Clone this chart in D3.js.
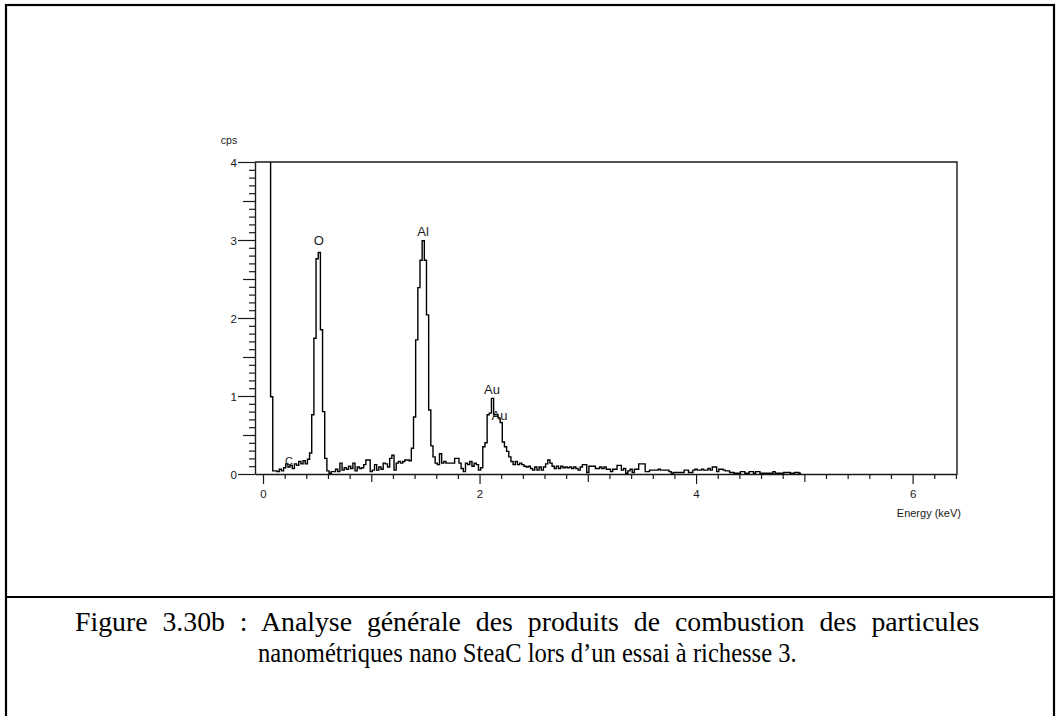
<!DOCTYPE html>
<html>
<head>
<meta charset="utf-8">
<script src="https://cdn.jsdelivr.net/npm/d3@7"></script>
<style>
  body { margin: 0; background: #fff; }
  svg { display: block; }
</style>
</head>
<body>
<script>
// EDX spectrum: counts per channel (cps), channels of 0.02 keV starting at 0.05 keV
const channelStart = 0.05;
const channelWidth = 0.02;
const counts = [
  12.0, 0.99, 0.04, 0.04, 0.03, 0.06, 0.04, 0.08, 0.13, 0.09,   // 0.05 - 0.23
  0.11, 0.07, 0.13, 0.11, 0.16, 0.13, 0.17, 0.13, 0.19, 0.27,   // 0.25 - 0.43
  0.76, 1.74, 2.76, 2.84, 1.85, 0.80, 0.20, 0.04, 0.01, 0.03,   // 0.45 - 0.63
  0.03, 0.06, 0.03, 0.14, 0.05, 0.08, 0.06, 0.10, 0.07, 0.14,   // 0.65 - 0.83
  0.04, 0.09, 0.07, 0.08, 0.12, 0.18, 0.18, 0.03, 0.05, 0.12,   // 0.85 - 1.03
  0.05, 0.09, 0.06, 0.14, 0.13, 0.09, 0.20, 0.24, 0.05, 0.14,   // 1.05 - 1.23
  0.16, 0.14, 0.16, 0.18, 0.18, 0.17, 0.33, 0.73, 1.72, 2.39,   // 1.25 - 1.43
  2.74, 2.99, 2.74, 2.04, 0.82, 0.36, 0.22, 0.14, 0.12, 0.26,   // 1.45 - 1.63
  0.14, 0.16, 0.14, 0.14, 0.14, 0.14, 0.20, 0.20, 0.14, 0.07,   // 1.65 - 1.83
  0.03, 0.14, 0.12, 0.16, 0.10, 0.14, 0.12, 0.05, 0.08, 0.35,   // 1.85 - 2.03
  0.40, 0.76, 0.78, 0.97, 0.76, 0.76, 0.72, 0.66, 0.41, 0.35,   // 2.05 - 2.23
  0.29, 0.22, 0.16, 0.12, 0.16, 0.12, 0.14, 0.12, 0.10, 0.09,   // 2.25 - 2.43
  0.10, 0.07, 0.05, 0.09, 0.05, 0.09, 0.05, 0.09, 0.13, 0.18,   // 2.45 - 2.63
  0.14, 0.10, 0.07, 0.10, 0.07, 0.10, 0.08, 0.09, 0.08, 0.09,   // 2.65 - 2.83
  0.07, 0.09, 0.07, 0.05, 0.09, 0.12, 0.12, 0.02, 0.10, 0.10,   // 2.85 - 3.03
  0.10, 0.07, 0.07, 0.09, 0.07, 0.09, 0.06, 0.06, 0.03, 0.06,   // 3.05 - 3.23
  0.06, 0.11, 0.11, 0.05, 0.07, 0.01, 0.04, 0.06, 0.02, 0.06,   // 3.25 - 3.43
  0.06, 0.13, 0.13, 0.13, 0.03, 0.03, 0.05, 0.05, 0.05, 0.05,   // 3.45 - 3.63
  0.06, 0.05, 0.05, 0.05, 0.05, 0.03, 0.01, 0.02, 0.02, 0.02,   // 3.65 - 3.83
  0.02, 0.02, 0.05, 0.05, 0.02, 0.02, 0.05, 0.06, 0.05, 0.05,   // 3.85 - 4.03
  0.06, 0.05, 0.05, 0.07, 0.05, 0.09, 0.09, 0.03, 0.06, 0.06,   // 4.05 - 4.23
  0.05, 0.04, 0.04, 0.02, 0.02, 0.01, 0.01, 0.01, 0.03, 0.03,   // 4.25 - 4.43
  0.01, 0.01, 0.03, 0.03, 0.01, 0.03, 0.03, 0.01, 0.01, 0.01,   // 4.45 - 4.63
  0.01, 0.01, 0.01, 0.03, 0.01, 0.01, 0.01, 0.01, 0.02, 0.02,   // 4.65 - 4.83
  0.02, 0.01, 0.01, 0.02, 0.02, 0.01                            // 4.85 - 4.95
];

// element markers: symbol, energy (keV), label baseline height (cps)
const peakLabels   = ["O", "Al", "Au", "Au", "C"];
const peakEnergies = [0.515, 1.478, 2.115, 2.185, 0.24];
const peakHeights  = [2.94, 3.05, 1.03, 0.69, 0.12];
const peakFontSize = [13, 13, 13, 13, 11];

// axis labels
const yTickLabels = [0, 1, 2, 3, 4];
const xTickLabels = [0, 2, 4, 6];
const yTitle = "cps";
const xTitle = "Energy (keV)";
const captionLines = [
  "Figure 3.30b : Analyse générale des produits de combustion des particules",
  "nanométriques nano SteaC lors d’un essai à richesse 3."
];

const W = 1058, H = 716;
const plot = { left: 255, right: 957, top: 162, bottom: 474 };
const xDomain = [-0.074, 6.41];
const yDomain = [0, 4];

const svg = d3.select("body").append("svg")
  .attr("width", W).attr("height", H);

// page frame and caption separator
svg.append("rect")
  .attr("x", 6).attr("y", 5).attr("width", 1048).attr("height", 760)
  .attr("fill", "none").attr("stroke", "#000").attr("stroke-width", 2.2);
svg.append("line")
  .attr("x1", 6).attr("x2", 1054).attr("y1", 597).attr("y2", 597)
  .attr("stroke", "#000").attr("stroke-width", 2.2);

const x = d3.scaleLinear().domain(xDomain).range([plot.left, plot.right]);
const y = d3.scaleLinear().domain(yDomain).range([plot.bottom, plot.top]);

const axisFont = "'Liberation Sans', Arial, sans-serif";
const ink = "#1a1a1a";
const near = (a, b) => Math.abs(a - b) < 1e-6;

// y axis: minor 0.1, half 0.5, major 1
const yTickVals = d3.range(0, 41).map(i => i / 10);
const gy = svg.append("g")
  .attr("transform", `translate(${plot.left},0)`)
  .call(d3.axisLeft(y).tickValues(yTickVals).tickSizeOuter(0)
    .tickFormat(d => yTickLabels.some(v => near(v, d)) ? d3.format("d")(d) : ""));
gy.select(".domain").attr("stroke", ink).attr("stroke-width", 1.4);
gy.selectAll(".tick line")
  .attr("stroke", ink).attr("stroke-width", 1.2)
  .attr("x2", d => near(d, Math.round(d)) ? -17 : near(d * 2, Math.round(d * 2)) ? -12 : -6);
gy.selectAll(".tick text")
  .attr("x", -18).attr("dy", "0.36em")
  .attr("font-family", axisFont).attr("font-size", 11.5).attr("fill", ink);

// x axis: minor 0.2, odd integers longer, even integers labelled
const xTickVals = d3.range(0, 33).map(i => i / 5);
const gx = svg.append("g")
  .attr("transform", `translate(0,${plot.bottom})`)
  .call(d3.axisBottom(x).tickValues(xTickVals).tickSizeOuter(0)
    .tickFormat(d => xTickLabels.some(v => near(v, d)) ? d3.format("d")(d) : ""));
gx.select(".domain").attr("stroke", ink).attr("stroke-width", 1.4);
gx.selectAll(".tick line")
  .attr("stroke", ink).attr("stroke-width", 1.2)
  .attr("y2", d => {
    if (!near(d, Math.round(d))) return 5;
    return Math.round(d) % 2 === 0 ? 10 : 8;
  });
gx.selectAll(".tick text")
  .attr("y", 24).attr("dy", 0)
  .attr("font-family", axisFont).attr("font-size", 11.5).attr("fill", ink);

// top and right frame of the plot box
svg.append("path")
  .attr("d", `M${plot.left},${plot.top}H${plot.right}V${plot.bottom}`)
  .attr("fill", "none").attr("stroke", ink).attr("stroke-width", 1.4);

// axis titles
svg.append("text").text(yTitle)
  .attr("x", 229).attr("y", 144).attr("text-anchor", "middle")
  .attr("font-family", axisFont).attr("font-size", 10.5).attr("fill", ink);
svg.append("text").text(xTitle)
  .attr("x", 961).attr("y", 517).attr("text-anchor", "end")
  .attr("font-family", axisFont).attr("font-size", 11).attr("fill", ink);

// spectrum as a step line, clipped to the plot box
svg.append("clipPath").attr("id", "plot-clip")
  .append("rect")
  .attr("x", plot.left).attr("y", plot.top)
  .attr("width", plot.right - plot.left).attr("height", plot.bottom - plot.top);

const pts = counts.map((c, i) => [channelStart + i * channelWidth, c]);
pts.push([channelStart + counts.length * channelWidth, counts[counts.length - 1]]);

svg.append("path")
  .datum(pts)
  .attr("clip-path", "url(#plot-clip)")
  .attr("fill", "none")
  .attr("stroke", "#000")
  .attr("stroke-width", 1.4)
  .attr("d", d3.line().x(d => x(d[0])).y(d => y(d[1])).curve(d3.curveStepAfter));

// element labels
svg.append("g").selectAll("text")
  .data(peakLabels)
  .join("text")
  .text(d => d)
  .attr("x", (d, i) => x(peakEnergies[i]))
  .attr("y", (d, i) => y(peakHeights[i]))
  .attr("text-anchor", "middle")
  .attr("font-family", axisFont)
  .attr("font-size", (d, i) => peakFontSize[i])
  .attr("fill", ink);

// caption: condensed serif; first line justified across the width, last line centred
const capCentre = 527.5;
const capBaselines = [631, 662];
const capWidths = [905, 539];
const capFont = 27;
const wordGap = 8;          // extra justification space per word gap on the first line (px)
const cap = svg.append("g");
const capText = captionLines.map((line, i) => cap.append("text")
  .text(line)
  .attr("y", capBaselines[i])
  .attr("font-family", "'Liberation Serif', 'Times New Roman', serif")
  .attr("font-size", capFont)
  .attr("fill", "#000"));
const natural = capText.map(t => t.node().getComputedTextLength());
const spaces = (captionLines[0].match(/ /g) || []).length;
const sx = [
  (capWidths[0] - wordGap * spaces) / natural[0],
  capWidths[1] / natural[1]
];
capText[0].attr("word-spacing", wordGap / sx[0]);
capText.forEach((t, i) => {
  t.attr("x", 0)
   .attr("transform", `translate(${capCentre - capWidths[i] / 2},0) scale(${sx[i]},1)`);
});
</script>
</body>
</html>
